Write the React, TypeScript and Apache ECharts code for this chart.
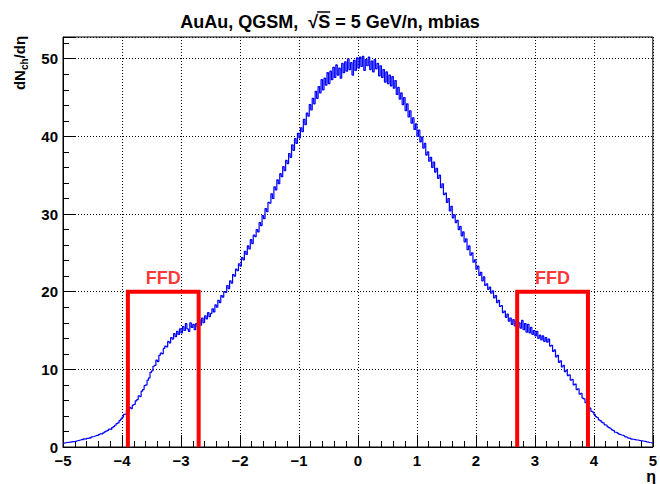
import React, { useEffect, useRef } from "react";
import * as echarts from "echarts";

// Pseudorapidity range of the histogram and its bin width
const etaMin = -5;
const etaMax = 5;
const binWidth = 0.025;

// dN_ch/dη per bin (400 bins from η = -5 to 5)
const dNdEta = [
  // -5 .. -4
  0.5, 0.55, 0.6, 0.58, 0.62, 0.66, 0.7, 0.68, 0.75, 0.8,
  0.85, 0.9, 0.98, 0.95, 1.05, 1.0, 1.1, 1.18, 1.15, 1.3,
  1.35, 1.42, 1.5, 1.48, 1.6, 1.7, 1.68, 1.82, 1.95, 2.05,
  2.15, 2.3, 2.25, 2.5, 2.62, 2.8, 3.0, 3.1, 3.4, 3.6,
  // -4 .. -3
  3.85, 4.2, 4.25, 4.7, 4.75, 5.1, 4.95, 5.4, 5.5, 5.95,
  6.1, 6.6, 6.5, 7.2, 7.4, 7.9, 8.0, 8.6, 8.9, 9.6,
  9.8, 10.4, 10.5, 11.2, 11.0, 11.8, 12.1, 12.0, 12.7, 13.0,
  12.9, 13.6, 13.4, 14.1, 13.9, 14.6, 14.2, 14.9, 14.5, 15.2,
  // -3 .. -2
  14.7, 15.5, 15.0, 15.9, 15.2, 14.9, 16.0, 15.4, 15.8, 15.1,
  15.9, 15.5, 16.4, 15.7, 16.6, 16.0, 16.9, 16.5, 17.3, 16.8,
  17.2, 17.8, 17.4, 18.3, 18.0, 18.9, 18.6, 19.5, 19.3, 20.0,
  19.9, 20.8, 20.4, 21.4, 21.1, 22.2, 22.0, 22.9, 22.7, 23.6,
  // -2 .. -1
  23.3, 24.4, 24.1, 25.2, 24.8, 25.9, 25.5, 26.7, 26.2, 27.3,
  27.1, 28.0, 27.7, 28.9, 28.5, 29.8, 29.4, 30.7, 30.3, 31.5,
  31.4, 32.6, 32.0, 33.5, 33.1, 34.4, 33.9, 35.2, 34.8, 36.1,
  35.6, 36.9, 36.5, 37.8, 37.3, 38.9, 38.2, 39.7, 39.1, 40.4,
  // -1 .. 0
  39.8, 41.1, 40.6, 42.2, 41.5, 43.0, 42.6, 44.1, 43.4, 44.9,
  44.2, 45.8, 44.9, 46.4, 45.6, 47.3, 46.0, 47.5, 46.6, 48.2,
  46.8, 48.4, 47.3, 48.9, 47.6, 49.2, 47.9, 48.8, 47.5, 49.4,
  48.2, 49.6, 48.4, 50.0, 48.6, 49.5, 47.9, 49.8, 48.5, 50.1,
  // 0 .. 1
  48.8, 50.2, 49.0, 50.3, 48.5, 49.9, 49.1, 50.2, 48.6, 49.7,
  48.3, 49.9, 48.7, 49.4, 47.8, 49.1, 47.6, 48.6, 47.0, 48.3,
  46.8, 47.9, 46.5, 47.7, 46.2, 47.2, 45.4, 46.3, 44.8, 45.6,
  44.1, 45.0, 43.3, 44.2, 42.5, 43.3, 41.7, 42.4, 40.9, 41.6,
  // 1 .. 2
  40.0, 40.8, 39.3, 39.9, 38.5, 39.1, 37.6, 38.0, 36.8, 37.3,
  36.0, 36.7, 35.4, 35.9, 34.6, 35.0, 33.4, 33.9, 32.5, 32.7,
  31.5, 32.0, 30.4, 31.0, 29.5, 29.9, 28.9, 29.2, 28.0, 28.4,
  27.2, 27.7, 26.4, 26.8, 25.4, 25.9, 24.7, 25.0, 23.8, 24.1,
  // 2 .. 3
  22.9, 23.3, 22.1, 22.5, 21.4, 21.9, 20.8, 21.0, 20.3, 20.6,
  19.8, 20.1, 19.2, 19.5, 18.6, 18.9, 18.1, 18.2, 17.3, 17.5,
  16.7, 17.1, 16.2, 16.6, 15.8, 16.4, 15.6, 16.2, 15.4, 16.0,
  15.3, 16.3, 15.1, 15.9, 14.8, 15.8, 14.7, 15.4, 14.5, 15.0,
  // 3 .. 4
  14.3, 14.9, 14.0, 14.4, 13.8, 14.3, 13.6, 14.1, 13.5, 13.9,
  13.0, 13.1, 12.3, 12.5, 11.6, 11.8, 10.9, 11.1, 10.3, 10.5,
  9.7, 9.9, 9.2, 9.3, 8.6, 8.7, 8.0, 8.1, 7.4, 7.5,
  6.8, 6.9, 6.3, 6.2, 5.7, 5.6, 5.1, 5.0, 4.6, 4.5,
  // 4 .. 5
  4.2, 3.9, 3.8, 3.5, 3.4, 3.2, 3.1, 2.85, 2.8, 2.6,
  2.5, 2.35, 2.2, 2.1, 1.9, 1.85, 1.75, 1.62, 1.55, 1.5,
  1.42, 1.3, 1.25, 1.15, 1.12, 1.02, 1.0, 0.96, 0.92, 0.9,
  0.85, 0.82, 0.8, 0.74, 0.72, 0.66, 0.63, 0.58, 0.55, 0.5,
];

// FFD detector acceptance windows in η and the drawn box height
const ffdWindows: [number, number][] = [
  [-3.9, -2.7],
  [2.7, 3.9],
];
const ffdHeight = 20;
const ffdLabel = "FFD";

const yMax = 52.8;

const titleBefore = "AuAu, QGSM,  √";
const titleRoot = "S";
const titleAfter = " = 5 GeV/n, mbias";

const FONT = "'Liberation Sans', Arial, Helvetica, sans-serif";
const TITLE_FONT = `bold 18px ${FONT}`;

// Step outline of the histogram: each bin contributes its two edges
function histogramSteps(): [number, number][] {
  const pts: [number, number][] = [];
  dNdEta.forEach((v, i) => {
    const lo = etaMin + i * binWidth;
    const hi = lo + binWidth;
    pts.push([lo, v], [hi, v]);
  });
  return pts;
}

function ffdBox(w: [number, number]): [number, number][] {
  return [
    [w[0], 0],
    [w[0], ffdHeight],
    [w[1], ffdHeight],
    [w[1], 0],
  ];
}

function measure(text: string, font: string): number {
  const ctx = document.createElement("canvas").getContext("2d");
  if (!ctx) return text.length * 10;
  ctx.font = font;
  return ctx.measureText(text).width;
}

export default function App() {
  const ref = useRef<HTMLDivElement>(null);

  useEffect(() => {
    if (!ref.current) return;
    const chart = echarts.init(ref.current, undefined, { renderer: "svg" });

    const axisLabelStyle = {
      color: "#000",
      fontFamily: FONT,
      fontWeight: "bold" as const,
      fontSize: 15,
    };

    const ffdSeries = ffdWindows.map((w) => ({
      type: "line" as const,
      data: ffdBox(w),
      showSymbol: false,
      silent: true,
      z: 3,
      lineStyle: { color: "#ff0000", width: 4, join: "miter" as const, cap: "butt" as const },
    }));

    const ffdLabels = {
      type: "scatter" as const,
      data: ffdWindows.map((w) => [(w[0] + w[1]) / 2, ffdHeight + 1.8]),
      symbolSize: 0,
      silent: true,
      z: 4,
      label: {
        show: true,
        position: "inside" as const,
        formatter: ffdLabel,
        color: "#ff0000",
        fontFamily: FONT,
        fontWeight: "bold" as const,
        fontSize: 18,
      },
    };

    // Title with an overbar on the radicand of √S
    const titleFull = titleBefore + titleRoot + titleAfter;
    const titleCx = 330;
    const titleCy = 22;
    const fullW = measure(titleFull, TITLE_FONT);
    const beforeW = measure(titleBefore, TITLE_FONT);
    const rootW = measure(titleRoot, TITLE_FONT);
    const barX0 = titleCx - fullW / 2 + beforeW - 1;
    const barX1 = barX0 + rootW + 1;

    chart.setOption({
      animation: false,
      backgroundColor: "#fff",
      grid: {
        left: 63,
        right: 3,
        top: 37,
        bottom: 37,
        show: true,
        borderColor: "#000",
        borderWidth: 1,
        containLabel: false,
      },
      xAxis: {
        type: "value",
        min: etaMin,
        max: etaMax,
        interval: 1,
        axisLine: { show: true, onZero: false, lineStyle: { color: "#000", width: 1 } },
        axisTick: { show: true, inside: true, length: 12, lineStyle: { color: "#000" } },
        minorTick: { show: true, splitNumber: 5, length: 6, lineStyle: { color: "#000" } },
        splitLine: { show: true, lineStyle: { color: "#000", type: [1, 2], width: 1 } },
        axisLabel: {
          ...axisLabelStyle,
          margin: 6,
          formatter: (v: number) => String(v).replace("-", "\u2212"),
        },
      },
      yAxis: {
        type: "value",
        min: 0,
        max: yMax,
        interval: 10,
        axisLine: { show: true, onZero: false, lineStyle: { color: "#000", width: 1 } },
        axisTick: { show: true, inside: true, length: 12, lineStyle: { color: "#000" } },
        minorTick: { show: true, splitNumber: 5, length: 6, lineStyle: { color: "#000" } },
        splitLine: { show: true, lineStyle: { color: "#000", type: [1, 2], width: 1 } },
        axisLabel: {
          ...axisLabelStyle,
          margin: 5,
          showMaxLabel: false,
          formatter: (v: number) => (v % 10 === 0 ? String(v) : ""),
        },
      },
      series: [
        {
          type: "line",
          data: histogramSteps(),
          showSymbol: false,
          silent: true,
          z: 2,
          lineStyle: { color: "#0000ff", width: 1.2 },
        },
        ...ffdSeries,
        ffdLabels,
      ],
      graphic: [
        {
          type: "text",
          x: titleCx,
          y: titleCy,
          style: {
            text: titleFull,
            fill: "#000",
            font: TITLE_FONT,
            align: "center",
            verticalAlign: "middle",
          },
        },
        {
          type: "line",
          shape: { x1: barX0, y1: 12, x2: barX1, y2: 12 },
          style: { stroke: "#000", lineWidth: 1.5 },
        },
        {
          type: "text",
          x: 19,
          y: 63,
          rotation: Math.PI / 2,
          style: {
            text: "{n|dN}{s|ch}{n|/dη}",
            align: "center",
            verticalAlign: "middle",
            rich: {
              n: { fill: "#000", fontFamily: FONT, fontWeight: "bold", fontSize: 15, lineHeight: 20 },
              s: {
                fill: "#000",
                fontFamily: FONT,
                fontWeight: "bold",
                fontSize: 10,
                lineHeight: 10,
                verticalAlign: "bottom",
              },
            },
          },
        },
        {
          type: "text",
          x: 656,
          y: 476,
          style: {
            text: "η",
            fill: "#000",
            font: `bold 16px ${FONT}`,
            align: "right",
            verticalAlign: "middle",
          },
        },
      ],
    });

    return () => chart.dispose();
  }, []);

  return <div ref={ref} style={{ width: 660, height: 484, position: "absolute", left: 0, top: 0 }} />;
}
